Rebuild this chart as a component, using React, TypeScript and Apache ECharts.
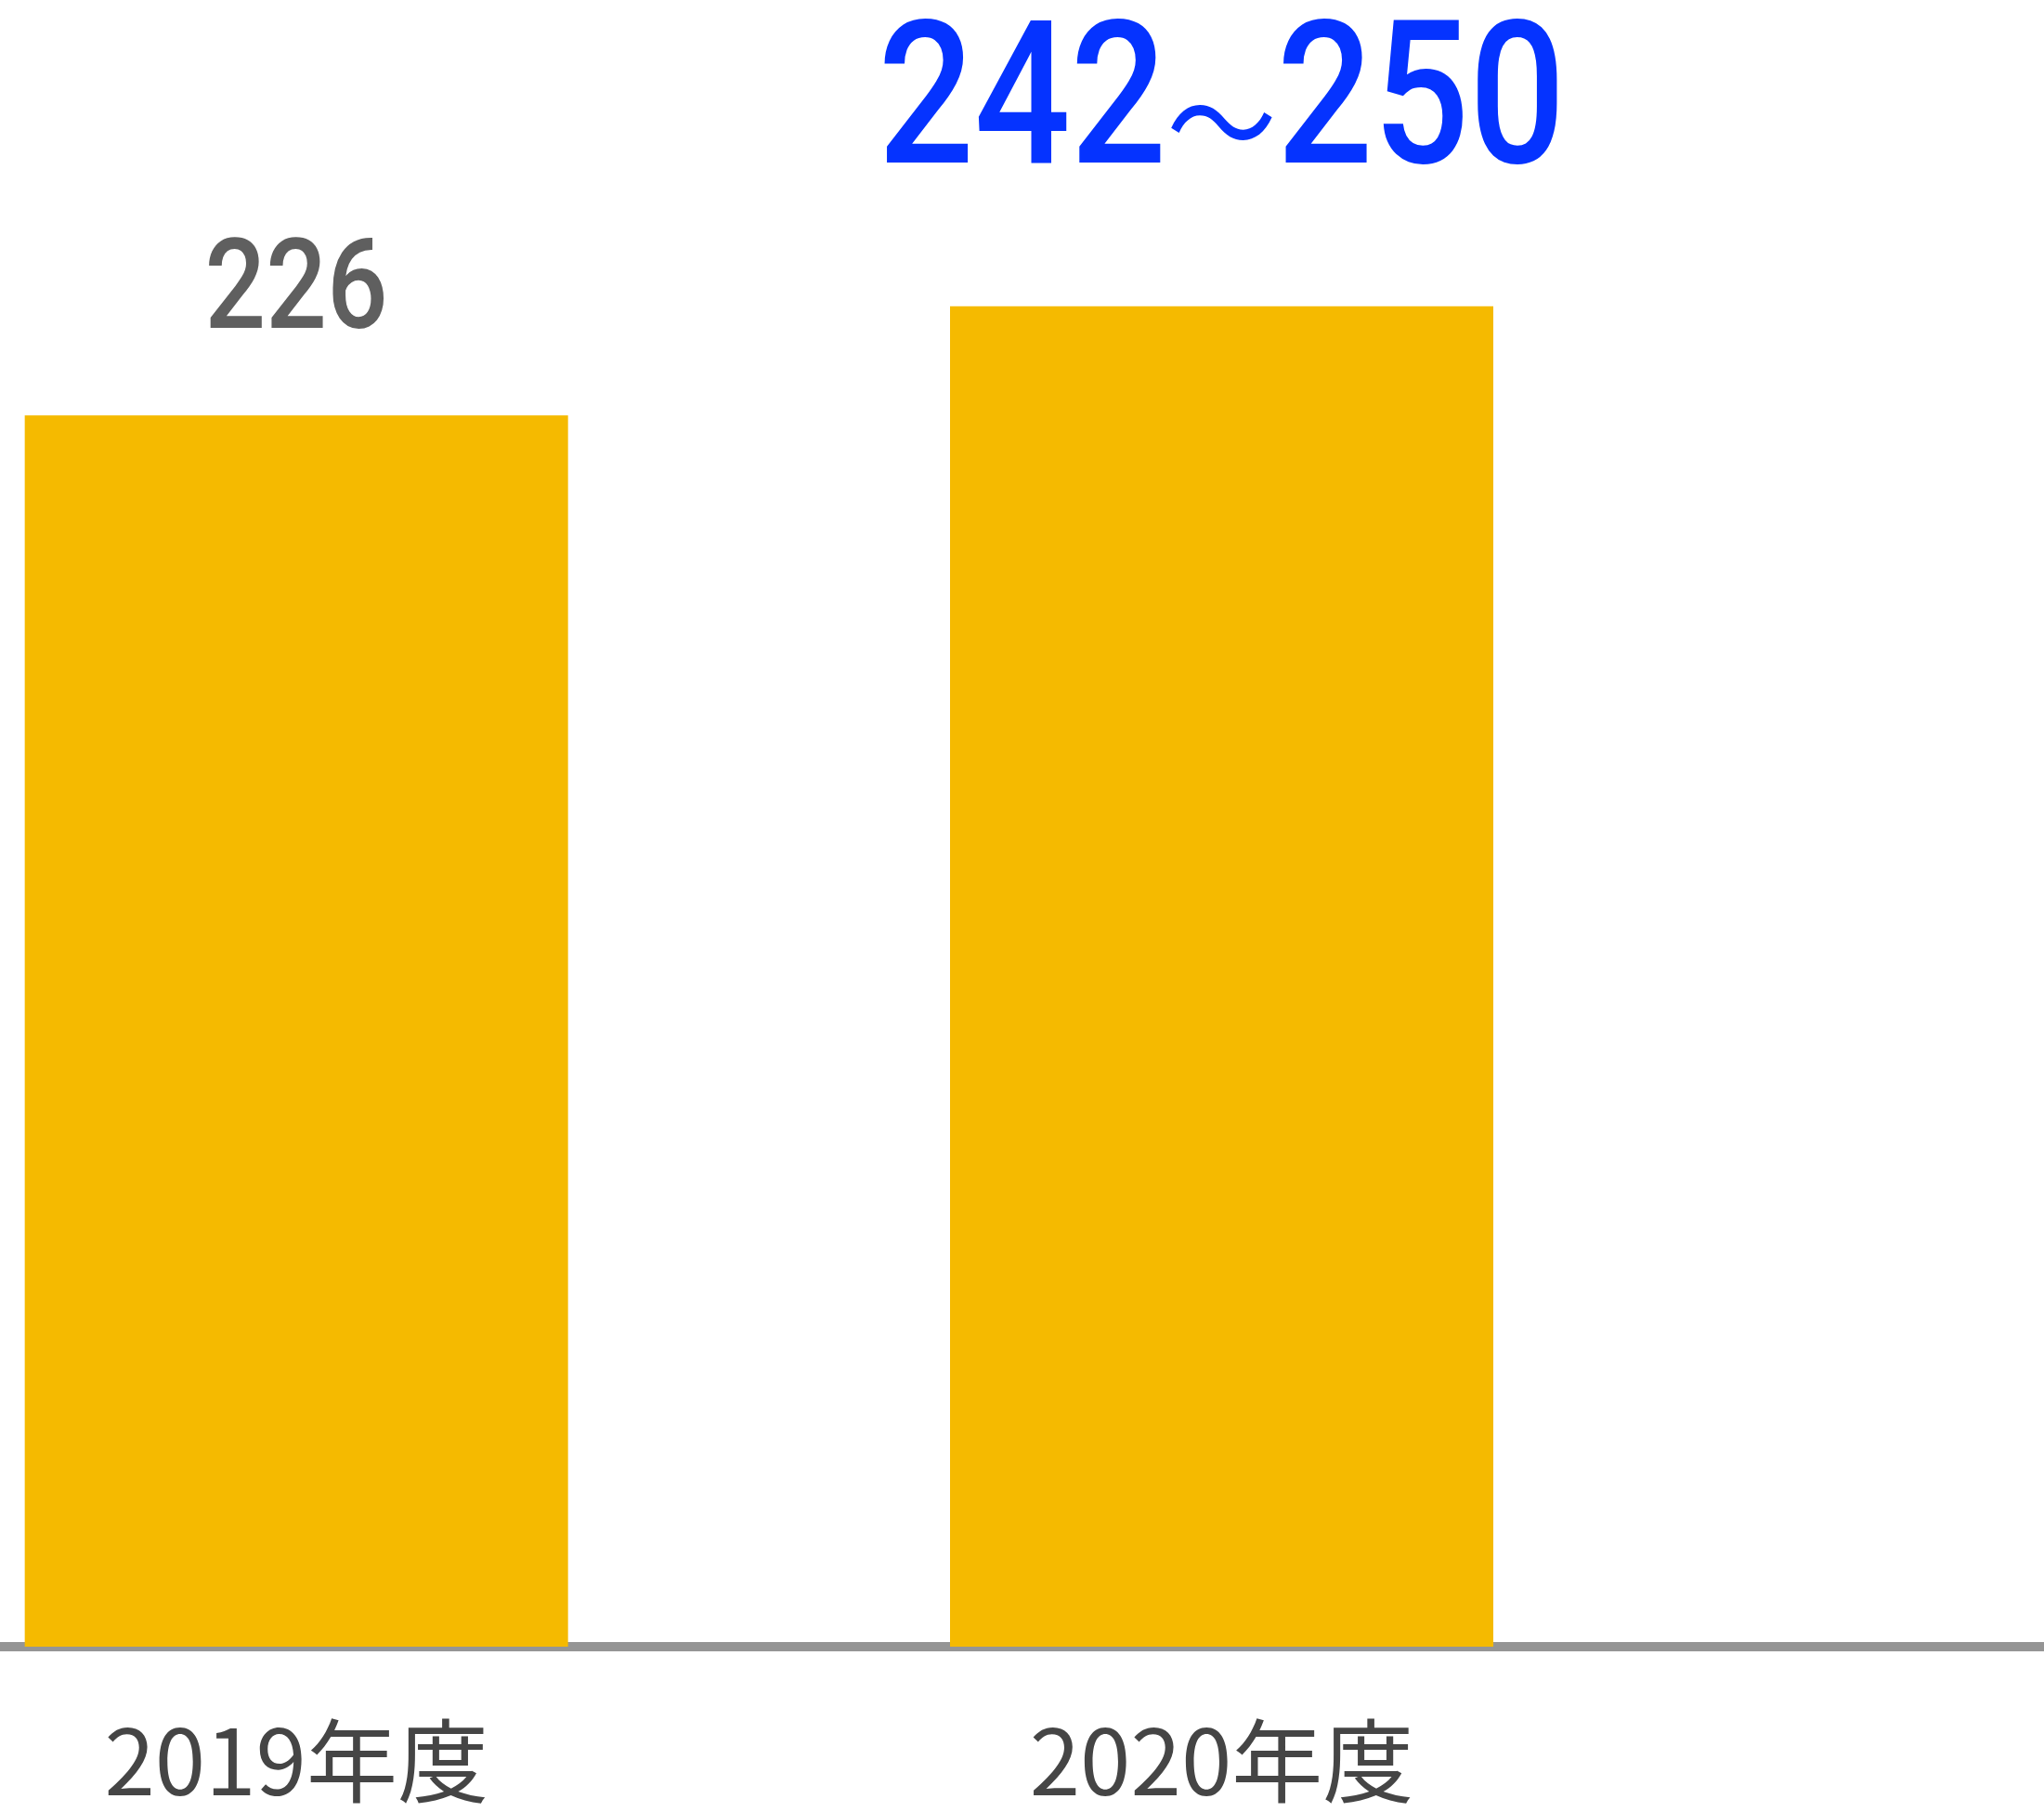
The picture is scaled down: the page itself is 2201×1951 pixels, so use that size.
import React, { useEffect, useRef } from "react";
import * as echarts from "echarts";

const categories: string[] = ["2019年度", "2020年度", ""];
const values: (number | null)[] = [226, 246, null];
const valueLabels: string[] = ["226", "242〜250", ""];

const NUM_FONT = "Roboto, 'Liberation Sans', sans-serif";

export default function App() {
  const ref = useRef<HTMLDivElement>(null);
  useEffect(() => {
    if (!ref.current) return;
    const chart = echarts.init(ref.current, null, { renderer: "svg" });
    const labelData = values
      .map((v, i) => [i, v])
      .filter((d) => d[1] !== null);
    chart.setOption({
      animation: false,
      backgroundColor: "#ffffff",
      grid: {
        left: -179,
        width: 2989,
        top: 13,
        bottom: 178,
        containLabel: false,
        outerBoundsMode: "none",
      },
      xAxis: {
        type: "category",
        data: categories,
        offset: 4,
        axisLine: { show: true, lineStyle: { color: "#959595", width: 10 } },
        axisTick: { show: false },
        axisLabel: {
          margin: 64,
          fontFamily: "'Noto Sans CJK JP', sans-serif",
          fontSize: 98,
          lineHeight: 98,
          color: "#454545",
        },
        splitLine: { show: false },
      },
      yAxis: {
        type: "value",
        min: 0,
        max: 300,
        show: false,
        splitLine: { show: false },
      },
      series: [
        {
          type: "bar",
          data: values,
          barWidth: 585,
          itemStyle: { color: "#F5BA00" },
          z: 2,
        },
        {
          type: "custom",
          data: labelData,
          z: 3,
          renderItem: (params: any, api: any) => {
            const idx = api.value(0);
            const pt = api.coord([idx, api.value(1)]);
            const text = valueLabels[idx];
            if (idx === 1) {
              const parts = text.split("〜");
              return {
                type: "text",
                x: pt[0],
                y: pt[1] - 121,
                scaleX: 0.845,
                style: {
                  text: `{a|${parts[0]}}{b|〜}{a|${parts[1]}}`,
                  align: "center",
                  verticalAlign: "bottom",
                  rich: {
                    a: {
                      fontFamily: NUM_FONT,
                      fontWeight: 500,
                      fontSize: 216,
                      lineHeight: 216,
                      fill: "#0533FF",
                    },
                    b: {
                      fontFamily: "'Noto Sans CJK JP', sans-serif",
                      fontSize: 140,
                      lineHeight: 216,
                      fill: "#0533FF",
                      padding: [46, 0, 0, 0],
                    },
                  },
                },
              };
            }
            return {
              type: "text",
              x: pt[0],
              y: pt[1] - 72,
              scaleX: 0.85,
              style: {
                text,
                align: "center",
                verticalAlign: "bottom",
                fontFamily: NUM_FONT,
                fontWeight: 500,
                fontSize: 136,
                lineHeight: 136,
                fill: "#5F5F5F",
              },
            };
          },
        },
      ],
    });
    return () => chart.dispose();
  }, []);
  return (
    <div
      ref={ref}
      style={{ position: "absolute", left: 0, top: 0, width: 2201, height: 1951 }}
    />
  );
}
